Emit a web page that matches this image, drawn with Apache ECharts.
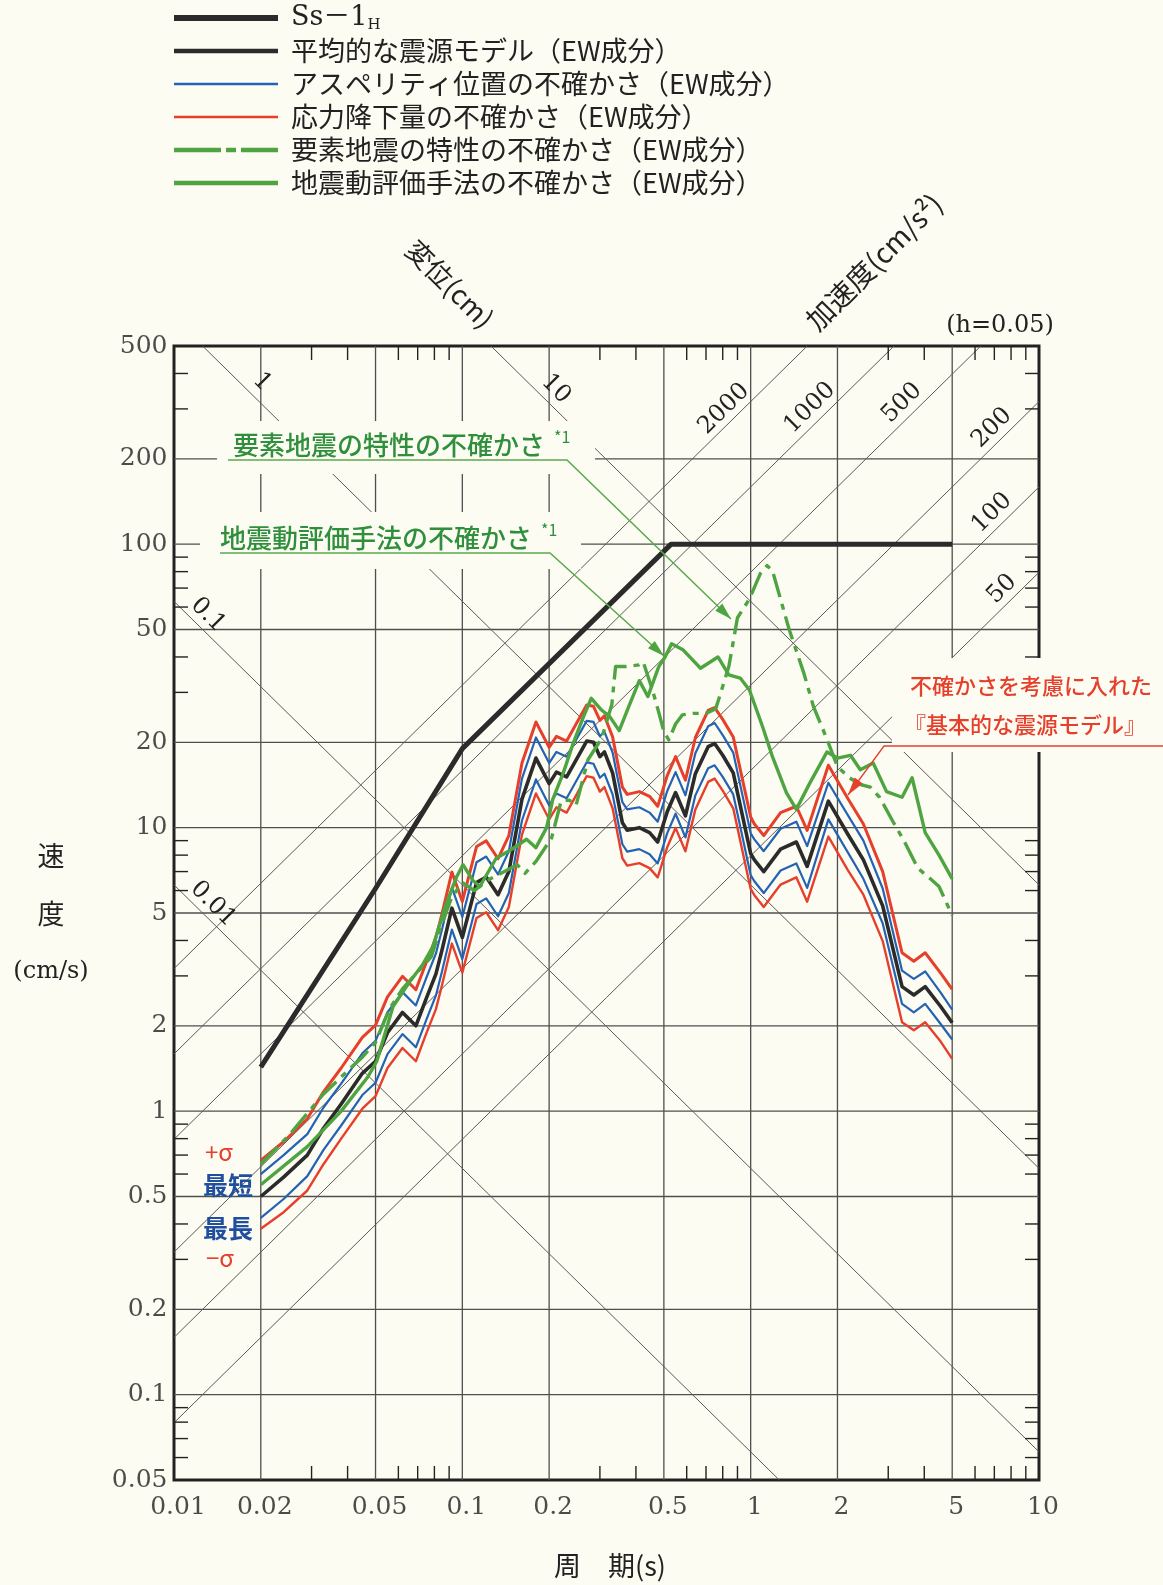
<!DOCTYPE html>
<html lang="ja">
<head>
<meta charset="utf-8">
<title>Response spectra (h=0.05)</title>
<script src="https://cdn.jsdelivr.net/npm/echarts@6.0.0/dist/echarts.min.js"></script>
<style>
html,body{margin:0;padding:0;background:#fcfcf2;}
#chart{width:1163px;height:1585px;}
</style>
</head>
<body>
<div id="chart"></div>
<script>
// ================= DATA =================
const periodsSs = [0.02, 0.05, 0.1, 0.53, 5.0];
const valuesSs  = [1.43, 6.1, 19.0, 100, 100];

const periodsModel = [0.020,0.024,0.029,0.033,0.038,0.045,0.050,0.055,0.062,0.069,0.075,0.081,0.085,0.092,0.100,0.112,0.121,0.133,0.145,0.161,0.180,0.200,0.212,0.230,0.270,0.285,0.300,0.311,0.332,0.359,0.373,0.411,0.446,0.476,0.514,0.549,0.594,0.643,0.712,0.750,0.800,0.870,0.900,1.000,1.030,1.110,1.270,1.440,1.570,1.860,2.170,2.460,2.870,3.350,3.680,4.030,4.560,5.000];
const meanModel = [0.50,0.585,0.70,0.87,1.06,1.36,1.50,1.89,2.23,2.00,2.50,3.05,3.70,5.20,4.10,6.40,6.70,5.80,7.00,12.6,17.6,14.3,15.7,15.1,20.2,20.0,17.8,18.5,15.6,10.4,9.8,10.0,9.6,8.9,11.4,13.3,11.0,15.5,19.3,19.8,18.0,15.6,13.3,8.1,7.7,7.0,8.4,8.9,7.3,12.4,9.5,7.7,5.3,2.75,2.57,2.75,2.34,2.05];
const stressPlus = [0.67,0.78,0.94,1.17,1.42,1.82,2.01,2.53,2.99,2.68,3.35,4.09,4.96,6.97,5.49,8.58,8.98,7.77,9.38,16.9,23.6,19.2,21.0,20.2,27.1,26.8,23.9,24.8,20.9,13.9,13.1,13.4,12.9,11.9,15.3,17.8,14.7,20.8,25.9,26.5,24.1,20.9,17.8,10.9,10.3,9.38,11.3,11.9,9.78,16.6,12.7,10.3,7.0,3.62,3.38,3.62,3.07,2.69];
const asperityShort = [0.60,0.70,0.83,1.03,1.25,1.60,1.77,2.23,2.63,2.36,2.95,3.60,4.37,6.14,4.84,7.55,7.91,6.84,8.26,14.9,20.8,16.9,18.5,17.8,23.8,23.6,21.0,21.8,18.4,12.3,11.6,11.8,11.3,10.5,13.5,15.7,13.0,18.3,22.8,23.4,21.2,18.4,15.7,9.56,9.09,8.26,9.91,10.5,8.61,14.4,11.1,9.0,6.1,3.13,2.93,3.11,2.62,2.28];
const asperityLong = [0.42,0.49,0.59,0.73,0.89,1.14,1.26,1.59,1.87,1.68,2.10,2.56,3.11,4.37,3.44,5.38,5.63,4.87,5.88,10.6,14.8,12.0,13.2,12.7,17.0,16.8,15.0,15.5,13.1,8.74,8.23,8.4,8.06,7.48,9.58,11.2,9.24,13.0,16.2,16.6,15.1,13.1,11.2,6.8,6.47,5.88,7.06,7.48,6.13,10.7,8.2,6.6,4.6,2.39,2.23,2.39,2.03,1.79];
const stressMinus = [0.385,0.44,0.525,0.65,0.80,1.02,1.13,1.42,1.67,1.50,1.88,2.29,2.78,3.90,3.08,4.80,5.03,4.35,5.25,9.45,13.2,10.7,11.8,11.3,15.2,15.0,13.4,13.9,11.7,7.8,7.35,7.5,7.2,6.68,8.55,9.98,8.25,11.6,14.5,14.9,13.5,11.7,9.98,6.08,5.78,5.25,6.3,6.68,5.48,9.3,7.1,5.8,3.98,2.06,1.93,2.06,1.76,1.53];

const periodsElem = [0.020,0.025,0.033,0.041,0.045,0.050,0.056,0.062,0.070,0.078,0.085,0.092,0.100,0.110,0.125,0.140,0.155,0.165,0.180,0.204,0.220,0.235,0.248,0.273,0.304,0.330,0.340,0.370,0.410,0.424,0.457,0.480,0.500,0.520,0.549,0.580,0.630,0.700,0.757,0.840,0.900,0.990,1.080,1.140,1.190,1.360,1.530,1.650,1.840,2.000,2.200,2.400,2.600,2.800,3.100,3.400,3.800,4.200,4.500,5.000];
const elemValues = [0.65,0.82,1.15,1.42,1.55,1.75,2.30,2.70,3.10,3.50,4.60,5.70,6.40,6.0,6.6,7.0,7.4,6.9,7.6,9.2,12.4,12.5,12.0,17.4,20.6,27.2,37.0,37.0,37.5,38.4,30.5,25.5,21.8,20.4,23.2,25.0,25.3,25.3,26.3,37.0,55.0,64.0,78.7,84.0,80.6,50.0,35.0,26.8,20.5,16.4,15.0,14.2,13.9,12.8,10.6,9.0,7.2,6.6,6.2,4.9];

const periodsMethod = [0.020,0.029,0.038,0.047,0.0505,0.0575,0.066,0.073,0.079,0.088,0.0955,0.1005,0.109,0.115,0.131,0.146,0.167,0.180,0.196,0.206,0.224,0.243,0.263,0.280,0.304,0.325,0.350,0.378,0.411,0.440,0.480,0.505,0.532,0.584,0.670,0.770,0.840,0.920,0.990,1.100,1.190,1.330,1.440,1.600,1.840,2.000,2.220,2.400,2.660,2.960,3.350,3.630,4.030,4.500,5.000];
const methodValues = [0.55,0.75,1.0,1.32,1.50,2.34,2.88,3.3,3.8,5.4,6.7,7.4,6.5,6.2,7.8,8.3,9.1,8.5,10.0,12.6,15.6,20.0,24.6,28.6,26.0,24.6,22.0,26.8,33.0,29.0,37.0,40.0,44.5,42.3,36.5,40.0,34.6,33.7,30.6,22.7,17.8,13.3,11.6,14.3,18.5,17.6,18.0,16.0,16.9,13.4,12.8,15.0,9.6,8.0,6.6];

const xTickLabels = ['0.01','0.02','0.05','0.1','0.2','0.5','1','2','5','10'];
const yTickLabels = ['0.05','0.1','0.2','0.5','1','2','5','10','20','50','100','200','500'];
const xMinorTicks = [0.03,0.04,0.06,0.07,0.08,0.09,0.3,0.4,0.6,0.7,0.8,0.9,3,4,6,7,8,9];
const yMinorTicks = [0.06,0.07,0.08,0.09,0.3,0.4,0.6,0.7,0.8,0.9,3,4,6,7,8,9,30,40,60,70,80,90,300,400];
const dispLines = [0.01, 0.1, 1, 10];              // displacement (cm)
const dispLabels = ['0.01','0.1','1','10'];
const accLines = [2000, 1000, 500, 200, 100, 50];  // acceleration (cm/s2)
const accLabels = ['2000','1000','500','200','100','50'];

const legendNames = ['Ss－1H','平均的な震源モデル（EW成分）','アスペリティ位置の不確かさ（EW成分）','応力降下量の不確かさ（EW成分）','要素地震の特性の不確かさ（EW成分）','地震動評価手法の不確かさ（EW成分）'];

// ================= STYLE =================
const BG = '#fcfcf2';
const GRID = '#4f4f4f';
const DIAG = '#5a5a5a';
const FRAME = '#222222';
const BLACK = '#2b2b2b';
const BLUE = '#2462b3';
const RED = '#e63f2b';
const GREEN = '#4fa442';
const GREEN_TXT = '#2f8f3c';
const DASHDOT = [24, 7, 6, 7];
const X0 = 0.01, X1 = 10, Y0 = 0.05, Y1 = 500;
const TICK = 14;
const SERIF = '"DejaVu Serif", "Noto Sans CJK JP"';
const JP = '"Noto Sans CJK JP", "Noto Sans"';

const chart = echarts.init(document.getElementById('chart'), null, {renderer: 'canvas', width: 1163, height: 1585});

function pairs(ts, vs) { return ts.map((t, i) => [t, vs[i]]); }
const TWO_PI = 2 * Math.PI;
function dispSeg(D) { const c = TWO_PI * D; const t1 = Math.max(X0, c / Y1), t2 = Math.min(X1, c / Y0); return [[t1, c / t1], [t2, c / t2]]; }
function accSeg(A) { const c = A / TWO_PI; const t1 = Math.max(X0, Y0 / c), t2 = Math.min(X1, Y1 / c); return [[t1, c * t1], [t2, c * t2]]; }

const series = [];
// grid lines
const xGrid = xTickLabels.slice(1, -1).map(parseFloat);
const yGrid = yTickLabels.slice(1, -1).map(parseFloat);
series.push({
  type: 'custom', silent: true, clip: false, z: 1, data: xGrid.map(v => [v, Y0]),
  renderItem: (p, api) => { const a = api.coord([api.value(0), Y0]), b = api.coord([api.value(0), Y1]);
    return {type: 'line', shape: {x1: a[0], y1: a[1], x2: b[0], y2: b[1]}, style: {stroke: GRID, lineWidth: 1.3}}; }
});
series.push({
  type: 'custom', silent: true, clip: false, z: 1, data: yGrid.map(v => [X0, v]),
  renderItem: (p, api) => { const a = api.coord([X0, api.value(1)]), b = api.coord([X1, api.value(1)]);
    return {type: 'line', shape: {x1: a[0], y1: a[1], x2: b[0], y2: b[1]}, style: {stroke: GRID, lineWidth: 1.3}}; }
});
// minor ticks
series.push({
  type: 'custom', silent: true, clip: false, z: 2, data: xMinorTicks.map(v => [v, Y0]),
  renderItem: (p, api) => { const a = api.coord([api.value(0), Y0]), b = api.coord([api.value(0), Y1]);
    return {type: 'group', children: [
      {type: 'line', shape: {x1: a[0], y1: a[1], x2: a[0], y2: a[1] - TICK}, style: {stroke: FRAME, lineWidth: 1.4}},
      {type: 'line', shape: {x1: b[0], y1: b[1], x2: b[0], y2: b[1] + TICK}, style: {stroke: FRAME, lineWidth: 1.4}}]}; }
});
series.push({
  type: 'custom', silent: true, clip: false, z: 2, data: yMinorTicks.map(v => [X0, v]),
  renderItem: (p, api) => { const a = api.coord([X0, api.value(1)]), b = api.coord([X1, api.value(1)]);
    return {type: 'group', children: [
      {type: 'line', shape: {x1: a[0], y1: a[1], x2: a[0] + TICK, y2: a[1]}, style: {stroke: FRAME, lineWidth: 1.4}},
      {type: 'line', shape: {x1: b[0], y1: b[1], x2: b[0] - TICK, y2: b[1]}, style: {stroke: FRAME, lineWidth: 1.4}}]}; }
});
// tripartite diagonals
dispLines.forEach(D => series.push({type: 'line', data: dispSeg(D), symbol: 'none', silent: true, clip: true, z: 1,
  lineStyle: {color: DIAG, width: 1}}));
accLines.forEach(A => series.push({type: 'line', data: accSeg(A), symbol: 'none', silent: true, clip: true, z: 1,
  lineStyle: {color: DIAG, width: 1}}));
// tick labels
series.push({type: 'scatter', silent: true, clip: false, symbolSize: 1, itemStyle: {color: 'rgba(0,0,0,0)'}, z: 5,
  data: xTickLabels.map(s => [parseFloat(s), Y0]),
  label: {show: true, position: 'bottom', distance: 14, offset: [4, 0], formatter: p => xTickLabels[p.dataIndex],
    color: '#1e1e1e', fontFamily: 'DejaVu Serif', fontSize: 25}});
series.push({type: 'scatter', silent: true, clip: false, symbolSize: 1, itemStyle: {color: 'rgba(0,0,0,0)'}, z: 5,
  data: yTickLabels.map(s => [X0, parseFloat(s)]),
  label: {show: true, position: 'left', distance: 6, formatter: p => yTickLabels[p.dataIndex],
    color: '#1e1e1e', fontFamily: 'DejaVu Serif', fontSize: 25}});
// data curves
function curve(name, data, color, width, type, z) {
  return {name, type: 'line', data, symbol: 'none', showSymbol: false, silent: true, clip: true, z,
    lineStyle: {color, width, type: type || 'solid', cap: 'butt', join: 'round'}};
}
series.push(curve(legendNames[3], pairs(periodsModel, stressMinus), RED, 2.4, null, 3));
series.push(curve(legendNames[3], pairs(periodsModel, stressPlus), RED, 3, null, 3));
series.push(curve(legendNames[2], pairs(periodsModel, asperityLong), BLUE, 2.2, null, 3));
series.push(curve(legendNames[2], pairs(periodsModel, asperityShort), BLUE, 2.2, null, 3));
series.push(curve(legendNames[1], pairs(periodsModel, meanModel), BLACK, 3.6, null, 4));
series.push(curve(legendNames[5], pairs(periodsMethod, methodValues), GREEN, 3.4, null, 4));
series.push(curve(legendNames[4], pairs(periodsElem, elemValues), GREEN, 3.4, DASHDOT, 4));
series.push(curve(legendNames[0], pairs(periodsSs, valuesSs), BLACK, 5, null, 5));

// ================= GRAPHICS (annotations) =================
function arrowHead(sx, sy, tx, ty, L, W, color) {
  const dx = tx - sx, dy = ty - sy, len = Math.hypot(dx, dy), ux = dx / len, uy = dy / len, nx = -uy, ny = ux;
  return {type: 'polygon', z: 12, silent: true, shape: {points: [[tx, ty], [tx - ux * L + nx * W / 2, ty - uy * L + ny * W / 2], [tx - ux * L - nx * W / 2, ty - uy * L - ny * W / 2]]}, style: {fill: color}};
}
function txt(x, y, text, font, fill, extra) {
  return Object.assign({type: 'text', x, y, z: 12, silent: true, style: {text, font, fill, align: 'center', verticalAlign: 'middle'}}, extra || {});
}
const g = [];
// covers (label backgrounds)
[[217, 421, 378, 53], [200, 512, 381, 57], [892, 658, 271, 94]].forEach(r =>
  g.push({type: 'rect', z: 10, silent: true, shape: {x: r[0], y: r[1], width: r[2], height: r[3]}, style: {fill: BG}}));

// legend
const legY = [18, 51, 84, 117, 150, 183];
const legStyles = [
  {stroke: BLACK, lineWidth: 6}, {stroke: BLACK, lineWidth: 4.5}, {stroke: BLUE, lineWidth: 2.4},
  {stroke: RED, lineWidth: 2.4}, {stroke: GREEN, lineWidth: 4.5, lineDash: [47, 5, 10, 5, 60]}, {stroke: GREEN, lineWidth: 4.5}];
legY.forEach((y, i) => {
  g.push({type: 'line', z: 12, silent: true, shape: {x1: 174, y1: y, x2: 278, y2: y}, style: legStyles[i]});
  if (i === 0) {
    g.push({type: 'text', x: 291, y: y, z: 12, silent: true, style: {text: '{a|Ss－1}{b|H}', verticalAlign: 'middle', align: 'left',
      rich: {a: {font: '27px ' + SERIF, fill: '#222', lineHeight: 30}, b: {font: '15px ' + SERIF, fill: '#222', lineHeight: 22, verticalAlign: 'bottom'}}}});
  } else {
    g.push({type: 'text', x: 291, y: y, z: 12, silent: true, style: {text: legendNames[i], font: '27px ' + JP, fill: '#222', align: 'left', verticalAlign: 'middle'}});
  }
});

// axis titles & misc texts
g.push(txt(450, 284, '変位(cm)', '27px ' + JP, '#222', {rotation: -Math.PI / 4}));
g.push(txt(874, 262, '加速度(cm/s²)', '28px ' + JP, '#222', {rotation: Math.PI / 4}));
g.push(txt(1000, 326, '(h=0.05)', '24px ' + SERIF, '#222'));
g.push(txt(51, 856, '速', '27px ' + JP, '#222'));
g.push(txt(51, 914, '度', '27px ' + JP, '#222'));
g.push(txt(51, 972, '(cm/s)', '24px ' + SERIF, '#222'));
g.push(txt(610, 1566, '周　期(s)', '27px ' + JP, '#222'));

// diagonal labels
const dispLabelPos = [[213, 904], [208, 615], [262, 382], [556, 389]];
dispLabels.forEach((s, i) => g.push(txt(dispLabelPos[i][0], dispLabelPos[i][1], s, '24px ' + SERIF, '#222', {rotation: -Math.PI / 4})));
const accLabelPos = [[724, 409], [810, 408], [902, 403], [992, 428], [992, 513], [1002, 589]];
accLabels.forEach((s, i) => g.push(txt(accLabelPos[i][0], accLabelPos[i][1], s, '24px ' + SERIF, '#222', {rotation: Math.PI / 4})));

// σ / asperity labels
g.push(txt(219, 1152, '+σ', '24px ' + JP, RED));
g.push(txt(228, 1185, '最短', 'bold 25px ' + JP, '#1f4f9e'));
g.push(txt(228, 1228, '最長', 'bold 25px ' + JP, '#1f4f9e'));
g.push(txt(220, 1258, '−σ', '24px ' + JP, RED));

// green annotations
g.push({type: 'text', x: 233, y: 445, z: 12, silent: true, style: {text: '要素地震の特性の不確かさ', font: '500 26px ' + JP, fill: GREEN_TXT, align: 'left', verticalAlign: 'middle'}});
g.push({type: 'text', x: 554, y: 437, z: 12, silent: true, style: {text: '*1', font: '16px ' + JP, fill: GREEN_TXT, align: 'left', verticalAlign: 'middle'}});
g.push({type: 'polyline', z: 12, silent: true, shape: {points: [[228, 460], [567, 460], [731, 619]]}, style: {stroke: '#5aa94c', lineWidth: 1.5, fill: null}});
g.push(arrowHead(567, 460, 731, 619, 17, 10, '#4fa442'));
g.push({type: 'text', x: 220, y: 538, z: 12, silent: true, style: {text: '地震動評価手法の不確かさ', font: '500 26px ' + JP, fill: GREEN_TXT, align: 'left', verticalAlign: 'middle'}});
g.push({type: 'text', x: 541, y: 530, z: 12, silent: true, style: {text: '*1', font: '16px ' + JP, fill: GREEN_TXT, align: 'left', verticalAlign: 'middle'}});
g.push({type: 'polyline', z: 12, silent: true, shape: {points: [[220, 553], [550, 553], [664, 656]]}, style: {stroke: '#5aa94c', lineWidth: 1.5, fill: null}});
g.push(arrowHead(550, 553, 664, 656, 17, 10, '#4fa442'));

// red annotation
g.push({type: 'text', x: 910, y: 686, z: 12, silent: true, style: {text: '不確かさを考慮に入れた', font: '500 22px ' + JP, fill: RED, align: 'left', verticalAlign: 'middle'}});
g.push({type: 'text', x: 904, y: 725, z: 12, silent: true, style: {text: '『基本的な震源モデル』', font: '500 22px ' + JP, fill: RED, align: 'left', verticalAlign: 'middle'}});
g.push({type: 'polyline', z: 12, silent: true, shape: {points: [[1163, 746], [884, 746], [848, 795]]}, style: {stroke: RED, lineWidth: 1.3, fill: null}});
g.push(arrowHead(884, 746, 848, 795, 18, 10, RED));

chart.setOption({
  backgroundColor: BG,
  animation: false,
  grid: {left: 174, right: 124, top: 346, bottom: 105, show: true, borderColor: FRAME, borderWidth: 3, backgroundColor: 'rgba(0,0,0,0)', outerBoundsMode: 'none'},
  xAxis: {type: 'log', logBase: 10, min: X0, max: X1, axisLine: {show: false}, axisTick: {show: false}, axisLabel: {show: false}, splitLine: {show: false}, minorTick: {show: false}, minorSplitLine: {show: false}},
  yAxis: {type: 'log', logBase: 10, min: Y0, max: Y1, axisLine: {show: false}, axisTick: {show: false}, axisLabel: {show: false}, splitLine: {show: false}, minorTick: {show: false}, minorSplitLine: {show: false}},
  tooltip: {show: false},
  series: series,
  graphic: {elements: g}
});
</script>
</body>
</html>
